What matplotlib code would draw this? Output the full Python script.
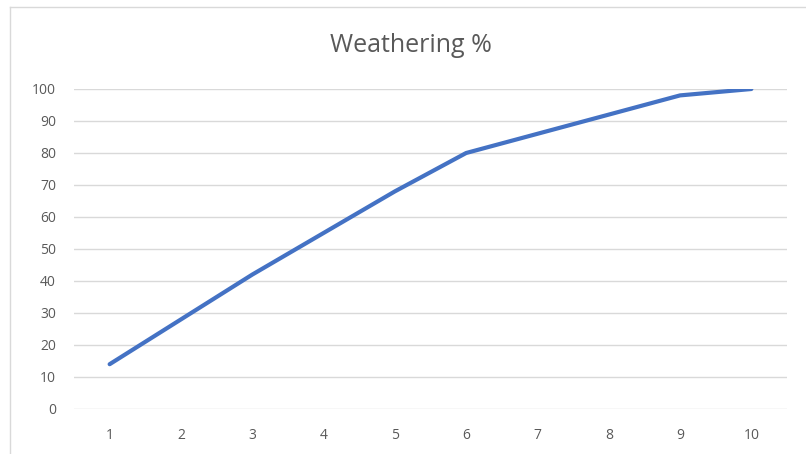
import matplotlib
matplotlib.use("Agg")
import matplotlib.pyplot as plt
from matplotlib.lines import Line2D

categories = [1, 2, 3, 4, 5, 6, 7, 8, 9, 10]
weathering = [14, 28, 42, 55, 68, 80, 86, 92, 98, 100]
y_ticks = [0, 10, 20, 30, 40, 50, 60, 70, 80, 90, 100]
title = "Weathering %"

plt.rcParams['font.family'] = ['Open Sans', 'DejaVu Sans']
text_col = '#595959'

fig = plt.figure(figsize=(8.06, 4.54), dpi=100)
ax = fig.add_axes([74/806, 1-409/454, (787-74)/806, (409-89)/454])

ax.plot(categories, weathering, color='#4472C4', lw=3.0, solid_capstyle='round',
        solid_joinstyle='round', zorder=3)

ax.set_xlim(0.5, 10.5)
ax.set_ylim(0, 100)
ax.set_yticks(y_ticks)
ax.set_xticks(categories)
ax.set_xticklabels([str(c) for c in categories])
ax.grid(axis='y', color='#D9D9D9', lw=1.0)
ax.set_axisbelow(True)
for s in ax.spines.values():
    s.set_visible(False)
ax.tick_params(axis='both', length=0, labelsize=10, labelcolor=text_col)
ax.tick_params(axis='y', pad=13)
ax.tick_params(axis='x', pad=14)

fig.text(411/806, 1-45/454, title, ha='center', va='center', fontsize=18, color=text_col)

fig.add_artist(Line2D([10/806, 10/806], [0, 1-7/454], transform=fig.transFigure, color='#D9D9D9', lw=1))
fig.add_artist(Line2D([10/806, 1], [1-7/454, 1-7/454], transform=fig.transFigure, color='#D9D9D9', lw=1))

fig.savefig("out.png", dpi=100)
